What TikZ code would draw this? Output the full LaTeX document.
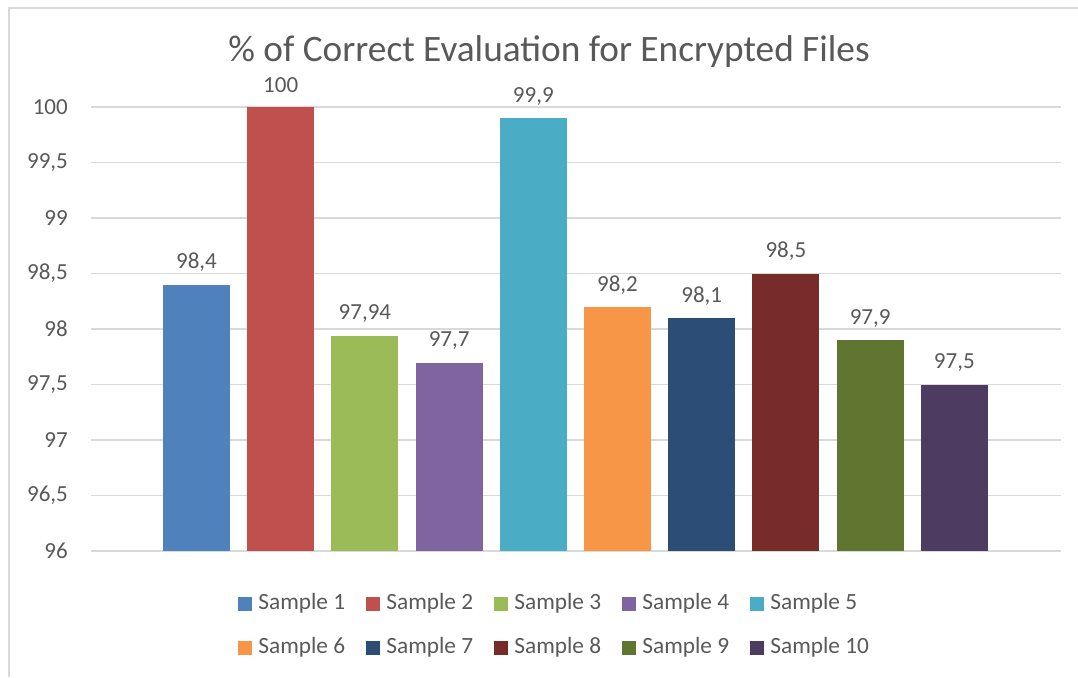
\documentclass[tikz,border=0pt]{standalone}
\usepackage{fontspec}
\setmainfont{Carlito}
\definecolor{txt}{HTML}{595959}
\definecolor{grid}{HTML}{D9D9D9}
\definecolor{c1}{HTML}{4F81BD}
\definecolor{c2}{HTML}{C0504D}
\definecolor{c3}{HTML}{9BBB59}
\definecolor{c4}{HTML}{8064A2}
\definecolor{c5}{HTML}{4BACC6}
\definecolor{c6}{HTML}{F79646}
\definecolor{c7}{HTML}{2C4D75}
\definecolor{c8}{HTML}{772C2A}
\definecolor{c9}{HTML}{5F7530}
\definecolor{c10}{HTML}{4D3B62}
\begin{document}
\begin{tikzpicture}[x=1pt,y=-1pt,
  axlab/.style={font=\fontsize{23}{25}\selectfont, text=txt, anchor=east, inner sep=0pt},
  vallab/.style={font=\fontsize{23}{25}\selectfont, text=txt, inner sep=0pt},
  leglab/.style={font=\fontsize{23.3}{25}\selectfont, text=txt, anchor=west, inner sep=0pt},
  gridline/.style={draw=grid, line width=1.5pt},
  legbox/.style={minimum width=14pt, minimum height=14pt, inner sep=0pt, draw=none}]
\useasboundingbox (0,0) rectangle (1078,677);
\fill[white] (0,0) rectangle (1078,677);
% frame
\draw[grid, line width=1.5pt] (9,677) -- (9,8) -- (1078,8);
% title
\node[font=\fontsize{37.3}{40}\selectfont, text=txt] (title) at (549,52) {\% of Correct Evaluation for Encrypted Files};
% grid and axis labels
\foreach \v/\t [count=\k] in {96/96,96.5/{96,5},97/97,97.5/{97,5},98/98,98.5/{98,5},99/99,99.5/{99,5},100/100}{
  \pgfmathsetmacro{\yy}{551-(\v-96)*111}
  \draw[gridline] (91,\yy) -- (1061,\yy);
  \node[axlab] (ax\k) at (68,\yy) {\t};
}
% bars
\foreach \v/\t [count=\i] in {98.4/{98,4},100/100,97.94/{97,94},97.7/{97,7},99.9/{99,9},98.2/{98,2},98.1/{98,1},98.5/{98,5},97.9/{97,9},97.5/{97,5}}{
  \pgfmathsetmacro{\xc}{196.5+84.2*(\i-1)}
  \pgfmathsetmacro{\yt}{551-(\v-96)*111}
  \node[fill=c\i, minimum width=67pt, minimum height={(\v-96)*111*1pt}, inner sep=0pt, anchor=north] (bar\i) at (\xc,\yt) {};
  \node[vallab] (val\i) at (\xc,\yt-22) {\t};
}
% legend
\foreach \i in {1,...,10}{
  \pgfmathtruncatemacro{\col}{mod(\i-1,5)}
  \pgfmathtruncatemacro{\row}{(\i-1)/5}
  \pgfmathsetmacro{\lx}{245+128*\col}
  \pgfmathsetmacro{\ly}{603.5+44*\row}
  \node[legbox, fill=c\i] (lb\i) at (\lx,\ly) {};
  \node[leglab] (lt\i) at ([xshift=6pt]lb\i.east) {Sample \i};
}
\end{tikzpicture}
\end{document}
